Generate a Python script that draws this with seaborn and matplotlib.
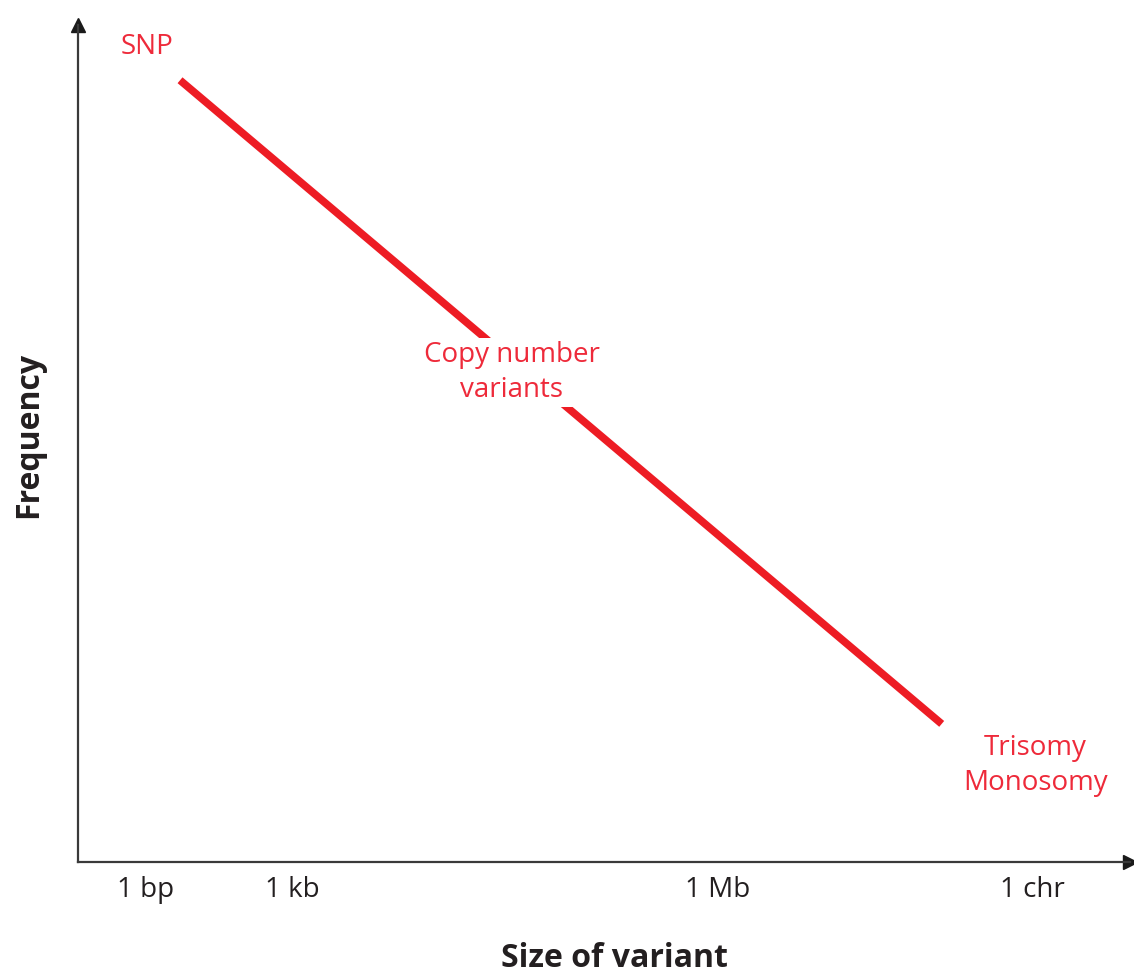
import numpy as np
import pandas as pd
import matplotlib
matplotlib.use("Agg")
import matplotlib.pyplot as plt
import seaborn as sns

# --- data (relative scale, 0..1 along each axis) ---
size_ticks = [0.064, 0.204, 0.608, 0.907]
size_labels = ["1 bp", "1 kb", "1 Mb", "1 chr"]

variant_size = [0.097, 0.821]
variant_freq = [0.934, 0.165]

label_text = ["SNP", "Copy number\nvariants", "Trisomy\nMonosomy"]
label_x = [0.0656, 0.4125, 0.910]
label_y = [0.974, 0.585, 0.115]

RED = "#ed1c24"
TEXT_RED = "#ee2a3a"
DARK = "#231f20"

sns.set_style("white")
plt.rcParams["font.family"] = ["Open Sans", "DejaVu Sans"]

W, H = 1134, 977
fig = plt.figure(figsize=(W / 100, H / 100), dpi=100)
ax = fig.add_axes([78 / W, (H - 862) / H, (1130 - 78) / W, (862 - 25) / H])

df = pd.DataFrame({"size": variant_size, "freq": variant_freq})
sns.lineplot(data=df, x="size", y="freq", ax=ax, color=RED, linewidth=5.5,
             solid_capstyle="butt", zorder=2)

for txt, x, y in zip(label_text, label_x, label_y):
    ax.text(x, y, txt, color=TEXT_RED, fontsize=20, ha="center", va="center",
            linespacing=1.35, zorder=3,
            bbox=dict(boxstyle="square,pad=0.1", fc="white", ec="none"))

ax.set_xlim(0, 1)
ax.set_ylim(0, 1)

# axes with arrow heads
for side in ["top", "right"]:
    ax.spines[side].set_visible(False)
for side in ["left", "bottom"]:
    ax.spines[side].set_color("#3a3a3a")
    ax.spines[side].set_linewidth(1.6)
ax.plot(1, 0, ">", color="#1a1a1a", markersize=10, transform=ax.transAxes, clip_on=False)
ax.plot(0, 1, "^", color="#1a1a1a", markersize=10, transform=ax.transAxes, clip_on=False)

ax.set_xticks(size_ticks)
ax.set_xticklabels(size_labels, fontsize=20, color=DARK)
ax.set_yticks([])
ax.tick_params(axis="x", length=0, pad=10)

ax.set_xlabel("Size of variant", fontsize=23, fontweight="bold", color=DARK)
ax.set_ylabel("Frequency", fontsize=23, fontweight="bold", color=DARK)
ax.xaxis.set_label_coords(0.51, -0.096)
ax.yaxis.set_label_coords(-0.031, 0.51)

fig.savefig("out.png", dpi=100)
